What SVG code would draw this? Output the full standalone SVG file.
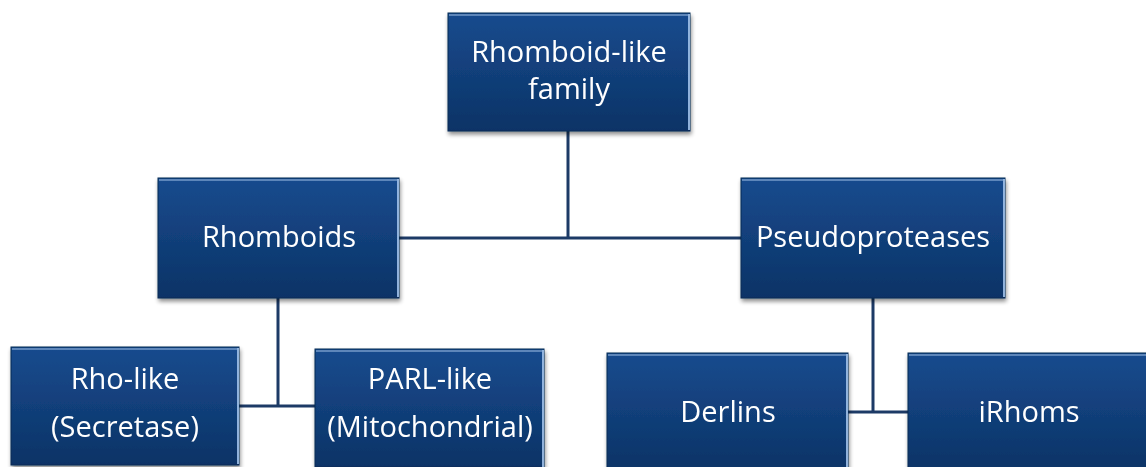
<svg xmlns="http://www.w3.org/2000/svg" width="1146" height="467" viewBox="0 0 1146 467">
<defs>
<linearGradient id="g" x1="0" y1="0" x2="0" y2="1">
<stop offset="0" stop-color="#174b8e"/>
<stop offset="1" stop-color="#0c3366"/>
</linearGradient>
<filter id="sh" x="-10%" y="-10%" width="125%" height="130%">
<feGaussianBlur in="SourceAlpha" stdDeviation="2"/>
<feOffset dx="1" dy="3"/>
<feComponentTransfer><feFuncA type="linear" slope="0.45"/></feComponentTransfer>
<feMerge><feMergeNode/><feMergeNode in="SourceGraphic"/></feMerge>
</filter>
</defs>
<style>
.box{fill:url(#g);stroke:#0a2a55;stroke-width:1}
.hl{fill:none;stroke:#6f95c6;stroke-width:2;opacity:0.8}
.hr{fill:none;stroke:#9fc0e8;stroke-width:2;opacity:0.9}
.t{font-family:"Open Sans","Noto Sans",sans-serif;font-size:29px;fill:#ffffff;text-anchor:middle}
.c{fill:none;stroke:#1c3a66;stroke-width:3}
</style>
<g id="connectors">
<path class="c" d="M568,131 V238 M399,238 H741"/>
<path class="c" d="M278,298 V406 M239,406 H315"/>
<path class="c" d="M873,298 V412 M848,412 H908"/>
</g>
<g id="n1" filter="url(#sh)">
<rect class="box" x="448" y="13" width="242" height="118"/>
<path class="hl" d="M449,15 H688"/><path class="hr" d="M689,14 V130"/>
<text class="t" x="569" y="62">Rhomboid-like</text>
<text class="t" x="569" y="99">family</text>
</g>
<g id="n2" filter="url(#sh)">
<rect class="box" x="158" y="178" width="241" height="120"/>
<path class="hl" d="M159,180 H397"/><path class="hr" d="M398,179 V297"/>
<text class="t" x="279" y="247">Rhomboids</text>
</g>
<g id="n3" filter="url(#sh)">
<rect class="box" x="741" y="178" width="264" height="120"/>
<path class="hl" d="M742,180 H1003"/><path class="hr" d="M1004,179 V297"/>
<text class="t" x="873" y="247">Pseudoproteases</text>
</g>
<g id="n4" filter="url(#sh)">
<rect class="box" x="11" y="347" width="228" height="118"/>
<path class="hl" d="M12,349 H237"/><path class="hr" d="M238,348 V464"/>
<text class="t" x="125" y="389">Rho-like</text>
<text class="t" x="125" y="437">(Secretase)</text>
</g>
<g id="n5" filter="url(#sh)">
<rect class="box" x="315" y="349" width="229" height="118"/>
<path class="hl" d="M316,351 H542"/><path class="hr" d="M543,350 V467"/>
<text class="t" x="430" y="389">PARL-like</text>
<text class="t" x="430" y="437">(Mitochondrial)</text>
</g>
<g id="n6" filter="url(#sh)">
<rect class="box" x="607" y="353" width="241" height="118"/>
<path class="hl" d="M608,355 H846"/><path class="hr" d="M847,354 V470"/>
<text class="t" x="728" y="422">Derlins</text>
</g>
<g id="n7" filter="url(#sh)">
<rect class="box" x="908" y="353" width="242" height="118"/>
<path class="hl" d="M909,355 H1148"/>
<text class="t" x="1029" y="422">iRhoms</text>
</g>
</svg>
